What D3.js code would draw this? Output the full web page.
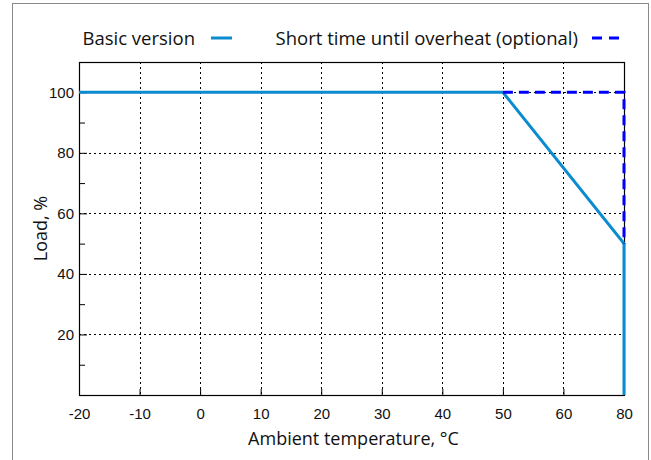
<!DOCTYPE html>
<html>
<head>
<meta charset="utf-8">
<script src="https://cdn.jsdelivr.net/npm/d3@7/dist/d3.min.js"></script>
<style>
  html, body { margin: 0; padding: 0; background: #fff; }
  svg { display: block; }
</style>
</head>
<body>
<svg id="chart" width="651" height="460"></svg>
<script>
// ---- data ----
const xCategories = ["-20", "-10", "0", "10", "20", "30", "40", "50", "60", "80"];
const yTicks = [20, 40, 60, 80, 100];
const yMinorTicks = [10, 30, 50, 70, 90];
const basicX = ["-20", "50", "80", "80"];
const basicY = [100, 100, 50, 0];
const overheatX = ["50", "80", "80"];
const overheatY = [100, 100, 50];
const seriesNames = ["Basic version", "Short time until overheat (optional)"];

// ---- layout ----
const plot = { left: 79, right: 624, top: 62, bottom: 395 };
const basicColor = "#0a8ccf";
const overheatColor = "#0000ff";
const tickFont = "'Liberation Sans', Arial, sans-serif";
const textFont = "'Open Sans', 'Noto Sans', sans-serif";

const svg = d3.select("#chart");

// outer border
svg.append("rect")
  .attr("x", 12.5).attr("y", 3.5)
  .attr("width", 636).attr("height", 470)
  .attr("fill", "none").attr("stroke", "#8a8a8a").attr("stroke-width", 1);

const x = d3.scalePoint().domain(xCategories).range([plot.left, plot.right]).padding(0);
const y = d3.scaleLinear().domain([0, 110]).range([plot.bottom, plot.top]);

// grid
const grid = svg.append("g").attr("stroke", "#000").attr("stroke-width", 1)
  .attr("stroke-dasharray", "2,3");
grid.selectAll("line.v").data(xCategories.slice(1, -1)).join("line")
  .attr("x1", d => Math.round(x(d)) + 0.5).attr("x2", d => Math.round(x(d)) + 0.5)
  .attr("y1", plot.top).attr("y2", plot.bottom);
grid.selectAll("line.h").data(yTicks).join("line")
  .attr("y1", d => Math.round(y(d)) + 0.5).attr("y2", d => Math.round(y(d)) + 0.5)
  .attr("x1", plot.left).attr("x2", plot.right);

// axes
const xAxis = d3.axisBottom(x).tickSize(-6).tickPadding(11);
const gx = svg.append("g").attr("transform", `translate(0,${plot.bottom})`).call(xAxis);
gx.select(".domain").remove();
gx.selectAll("text").attr("font-family", tickFont).attr("font-weight", "normal")
  .attr("font-size", 15).attr("fill", "#111").attr("dy", "0.85em");

const yAxis = d3.axisLeft(y).tickValues(yTicks).tickSize(-8).tickPadding(5);
const gy = svg.append("g").attr("transform", `translate(${plot.left},0)`).call(yAxis);
gy.select(".domain").remove();
gy.selectAll("text").attr("font-family", tickFont).attr("font-weight", "normal")
  .attr("font-size", 15).attr("fill", "#111");

const yMinor = d3.axisLeft(y).tickValues(yMinorTicks).tickSize(-6).tickFormat("");
const gym = svg.append("g").attr("transform", `translate(${plot.left},0)`).call(yMinor);
gym.select(".domain").remove();

// frame
svg.append("rect")
  .attr("x", plot.left + 0.5).attr("y", plot.top + 0.5)
  .attr("width", plot.right - plot.left).attr("height", plot.bottom - plot.top)
  .attr("fill", "none").attr("stroke", "#000").attr("stroke-width", 1.2);

// series
const line = d3.line().x(d => x(d[0])).y(d => y(d[1]));
const overheatPts = overheatX.map((v, i) => [v, overheatY[i]]);
const basicPts = basicX.map((v, i) => [v, basicY[i]]);

svg.append("path").datum(basicPts)
  .attr("d", line).attr("fill", "none")
  .attr("stroke", basicColor).attr("stroke-width", 3);

svg.append("path").datum(overheatPts)
  .attr("d", line).attr("fill", "none")
  .attr("stroke", overheatColor).attr("stroke-width", 3)
  .attr("stroke-dasharray", "10,6");

// axis labels
svg.append("text")
  .attr("x", (plot.left + plot.right) / 2 + 2).attr("y", 445)
  .attr("text-anchor", "middle")
  .attr("font-family", textFont).attr("font-size", 18)
  .attr("fill", "#111")
  .text("Ambient temperature, °C");

svg.append("text")
  .attr("transform", `translate(47,${(plot.top + plot.bottom) / 2}) rotate(-90)`)
  .attr("text-anchor", "middle")
  .attr("font-family", textFont).attr("font-size", 18)
  .attr("fill", "#111")
  .text("Load, %");

// legend
const legY = 38;
svg.append("text").attr("x", 195).attr("y", legY + 6.5)
  .attr("text-anchor", "end")
  .attr("font-family", textFont).attr("font-size", 18.5)
  .attr("fill", "#111").text(seriesNames[0]);
svg.append("line").attr("x1", 211).attr("x2", 232).attr("y1", legY).attr("y2", legY)
  .attr("stroke", basicColor).attr("stroke-width", 3);

svg.append("text").attr("x", 578).attr("y", legY + 6.5)
  .attr("text-anchor", "end")
  .attr("font-family", textFont).attr("font-size", 18.5)
  .attr("fill", "#111").text(seriesNames[1]);
svg.append("line").attr("x1", 592).attr("x2", 620).attr("y1", legY).attr("y2", legY)
  .attr("stroke", overheatColor).attr("stroke-width", 3)
  .attr("stroke-dasharray", "10,7");
</script>
</body>
</html>
